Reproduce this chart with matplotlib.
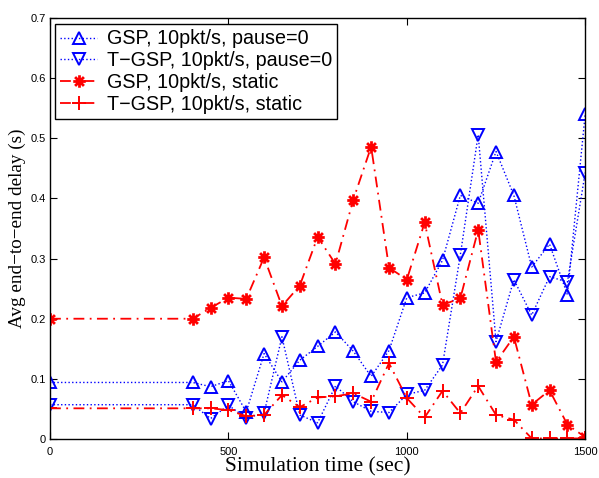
import numpy as np
import matplotlib
matplotlib.use("Agg")
import matplotlib.pyplot as plt
from matplotlib.path import Path

# simulation times (sec)
t = [0, 400, 450, 500, 550, 600, 650, 700, 750, 800, 850, 900, 950, 1000,
     1050, 1100, 1150, 1200, 1250, 1300, 1350, 1400, 1450, 1500]

gsp_mob = [0.094, 0.094, 0.087, 0.097, 0.045, 0.142, 0.095, 0.131, 0.154, 0.178,
           0.146, 0.104, 0.147, 0.235, 0.243, 0.297, 0.405, 0.392, 0.478, 0.405,
           0.286, 0.324, 0.240, 0.541]
tgsp_mob = [0.057, 0.057, 0.034, 0.056, 0.035, 0.043, 0.170, 0.040, 0.027, 0.088,
            0.062, 0.046, 0.044, 0.074, 0.081, 0.123, 0.306, 0.506, 0.162, 0.265,
            0.206, 0.270, 0.261, 0.443]
gsp_static = [0.200, 0.200, 0.218, 0.235, 0.233, 0.302, 0.221, 0.255, 0.336, 0.291,
              0.398, 0.486, 0.285, 0.265, 0.360, 0.223, 0.234, 0.348, 0.128, 0.170,
              0.057, 0.081, 0.024, 0.003]
tgsp_static = [0.051, 0.051, 0.051, 0.048, 0.038, 0.040, 0.073, 0.053, 0.069, 0.071,
               0.076, 0.062, 0.126, 0.068, 0.036, 0.080, 0.043, 0.088, 0.040, 0.032,
               0.001, 0.001, 0.001, 0.001]

labels = ["GSP, 10pkt/s, pause=0", "T\u2212GSP, 10pkt/s, pause=0",
          "GSP, 10pkt/s, static", "T\u2212GSP, 10pkt/s, static"]

# matlab style asterisk: + and x on top of each other
d = 0.7071
star = Path([(-1, 0), (1, 0), (0, -1), (0, 1), (-d, -d), (d, d), (-d, d), (d, -d)],
            [Path.MOVETO, Path.LINETO] * 4)

dashdot = (0, (6, 3, 1, 3))

fig = plt.figure(figsize=(5.99, 4.78), dpi=100)
ax = fig.add_axes([0.0835, 0.0816, 0.8935, 0.8807])

ax.plot(t, gsp_mob, color="blue", ls=":", lw=1, marker="^", ms=8,
        mfc="none", mec="blue", mew=1.4, label=labels[0])
ax.plot(t, tgsp_mob, color="blue", ls=":", lw=1, marker="v", ms=8,
        mfc="none", mec="blue", mew=1.4, label=labels[1])
ax.plot(t, gsp_static, color="red", ls=dashdot, lw=1.3, marker=star, ms=9,
        mfc="red", mec="red", mew=2.0, label=labels[2])
ax.plot(t, tgsp_static, color="red", ls=dashdot, lw=1.3, marker="+", ms=10,
        mec="red", mew=1.4, label=labels[3])

ax.set_xlim(0, 1500)
ax.set_ylim(0, 0.7)
ax.set_xticks([0, 500, 1000, 1500])
ax.set_yticks(np.arange(0, 0.71, 0.1))
ax.set_yticklabels(["0", "0.1", "0.2", "0.3", "0.4", "0.5", "0.6", "0.7"])
ax.tick_params(direction="in", top=True, right=True, length=5, width=0.8,
               labelsize=8, pad=3)
ax.tick_params(axis="x", pad=6)
for lab in ax.get_xticklabels() + ax.get_yticklabels():
    lab.set_family("Liberation Sans")
for s in ax.spines.values():
    s.set_linewidth(1.0)

ax.set_xlabel("Simulation time (sec)", family="Liberation Serif", fontsize=15.5, labelpad=0)
ax.set_ylabel("Avg end\u2212to\u2212end delay (s)", family="Liberation Serif", fontsize=13.8,
              labelpad=3)

leg = ax.legend(loc="upper left", bbox_to_anchor=(0.002, 0.994), fancybox=False,
                framealpha=1, edgecolor="black", borderpad=0.25, labelspacing=0.15,
                handlelength=1.9, handletextpad=0.5, borderaxespad=0.2,
                prop={"family": "Liberation Sans", "size": 14.2})
leg.get_frame().set_linewidth(1.0)

fig.savefig("out.png", dpi=100)
